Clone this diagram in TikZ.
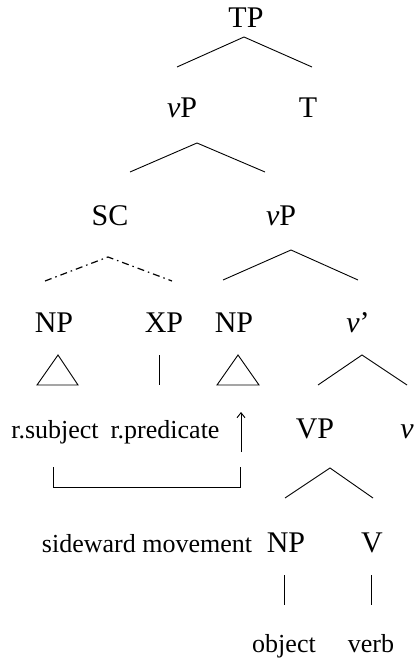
\documentclass[tikz,border=0pt]{standalone}
\usepackage{fontspec}
\setmainfont{Liberation Serif}
\usetikzlibrary{arrows.meta}
\begin{document}
\begin{tikzpicture}[x=1pt,y=-1pt,
 big/.style={inner sep=0pt,anchor=base,font=\fontsize{30}{31}\selectfont},
 small/.style={inner sep=0pt,anchor=base,font=\fontsize{26}{28}\selectfont},
 br/.style={line width=0.9pt},
 dd/.style={line width=1.2pt,dash pattern=on 7pt off 4pt on 1.5pt off 4pt}]
\useasboundingbox (0,0) rectangle (419,660);
% labels
\node[big] (TP) at (246,28) {TP};
\node[big] (vP1) at (182,118) {\textit{v}P};
\node[big] (T) at (308,118) {T};
\node[big] (SC) at (110,225) {SC};
\node[big] (vP2) at (281,225) {\textit{v}P};
\node[big] (NP1) at (54,332) {NP};
\node[big] (XP) at (164,332) {XP};
\node[big] (NP2) at (234,332) {NP};
\node[big] (vbar) at (358,332) {\textit{v}'};
\node[small] (rsub) at (55,438) {r.subject};
\node[small] (rpred) at (165,438) {r.predicate};
\node[big] (VP) at (315,438) {VP};
\node[big] (vhead) at (407,438) {\textit{v}};
\node[small] (side) at (147,552) {sideward movement};
\node[big] (NP3) at (286,552) {NP};
\node[big] (V) at (372,552) {V};
\node[small] (obj) at (284,652) {object};
\node[small] (verb) at (371,652) {verb};
% branch coordinates
\coordinate (aTP) at (244,37); \coordinate (lTP) at (177,67); \coordinate (rTP) at (312,67);
\coordinate (avP) at (197,143); \coordinate (lvP) at (130,172); \coordinate (rvP) at (265,172);
\coordinate (aSC) at (108,257); \coordinate (lSC) at (45,281); \coordinate (rSC) at (172,281);
\coordinate (avP2) at (291,250); \coordinate (lvP2) at (223,280); \coordinate (rvP2) at (358,280);
\coordinate (aN1) at (58,355); \coordinate (lN1) at (37,385); \coordinate (rN1) at (78,385);
\coordinate (tXP) at (159,355); \coordinate (bXP) at (159,385);
\coordinate (aN2) at (238,355); \coordinate (lN2) at (217,385); \coordinate (rN2) at (259,385);
\coordinate (avb) at (362,355); \coordinate (lvb) at (318,385); \coordinate (rvb) at (407,385);
\coordinate (aVP) at (330,468); \coordinate (lVP) at (285,498); \coordinate (rVP) at (373,498);
\coordinate (tN3) at (284,575); \coordinate (bN3) at (284,605);
\coordinate (tV) at (371,575); \coordinate (bV) at (371,605);
\coordinate (arB) at (241,452); \coordinate (arT) at (241,412);
\coordinate (bl) at (53,467); \coordinate (blb) at (53,487);
\coordinate (brb) at (240,487); \coordinate (brt) at (240,467);
% branches
\draw[br] (lTP) -- (aTP) -- (rTP);
\draw[br] (lvP) -- (avP) -- (rvP);
\draw[dd] (lSC) -- (aSC) -- (rSC);
\draw[br] (lvP2) -- (avP2) -- (rvP2);
\draw[br] (lN1) -- (aN1) -- (rN1) -- cycle;
\draw[br] (tXP) -- (bXP);
\draw[br] (lN2) -- (aN2) -- (rN2) -- cycle;
\draw[br] (lvb) -- (avb) -- (rvb);
\draw[br] (lVP) -- (aVP) -- (rVP);
\draw[br] (tN3) -- (bN3);
\draw[br] (tV) -- (bV);
% movement
\draw[br,-{Straight Barb[length=5pt,width=8pt]}] (arB) -- (arT);
\draw[br] (bl) -- (blb) -- (brb) -- (brt);
\end{tikzpicture}
\end{document}
